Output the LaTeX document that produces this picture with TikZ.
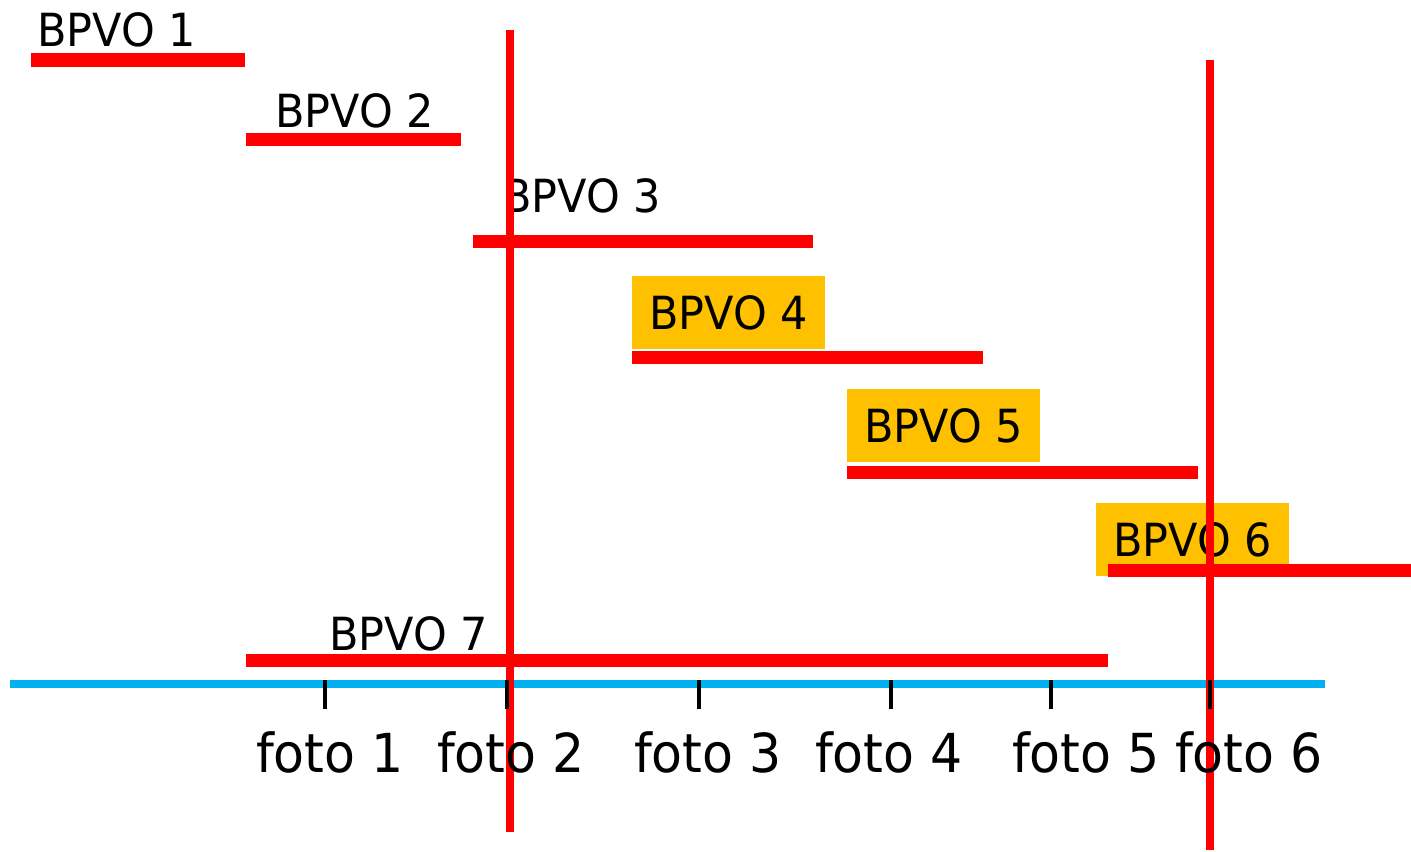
\documentclass[tikz,border=0pt]{standalone}
\usepackage{fontspec}
\setmainfont{DejaVu Sans}[FakeStretch=0.94]
\definecolor{barred}{HTML}{FF0000}
\definecolor{axisblue}{HTML}{00B0F0}
\definecolor{boxgold}{HTML}{FFC000}
\tikzset{
  bar/.style={line width=7.4pt, barred},
  cut/.style={line width=4.5pt, barred},
  lbl/.style={anchor=base west, inner sep=0pt, font=\fontsize{26}{31}\selectfont},
  hl/.style={anchor=north west, fill=boxgold, inner sep=0pt, minimum width=3.86cm,
    minimum height=1.46cm, font=\fontsize{26}{31}\selectfont},
  foto/.style={anchor=base, inner sep=0pt, font=\fontsize{30.6}{36}\selectfont}
}

\begin{document}
\begin{tikzpicture}[x=0.02cm, y=-0.02cm]
\useasboundingbox (0,0) rectangle (1411,852);
% labels
\node[lbl] (l1) at (37,47) {BPVO 1};
\node[lbl] (l2) at (275,127) {BPVO 2};
\node[lbl] (l3) at (502,212) {BPVO 3};
\node[hl] (l4) at (632,276) {BPVO 4};
\node[hl] (l5) at (847,389) {BPVO 5};
\node[hl] (l6) at (1096,503) {BPVO 6};
\node[lbl] (l7) at (329,650) {BPVO 7};
% bars
\foreach \a/\b/\y in {31/245/60, 246/461/139, 473/813/241, 632/983/357,
                      847/1198/472, 1108/1411/570, 246/1108/660}
	\draw[bar] (\a,\y) -- (\b,\y);
% axis
\draw[line width=4.5pt, axisblue] (10,684) -- (1325,684);
% cuts
\draw[cut] (510,30) -- (510,832);
\draw[cut] (1210,60) -- (1210,850);
% ticks
\foreach \x/\n/\c in {325/1/330, 507/2/511, 699/3/708, 891/4/889, 1051/5/1086, 1210/6/1249}
{
	\draw[line width=2.8pt] (\x,680) -- (\x,709);
	\node[foto] (f\n) at (\c,772) {foto \n};
}
\end{tikzpicture}
\end{document}
